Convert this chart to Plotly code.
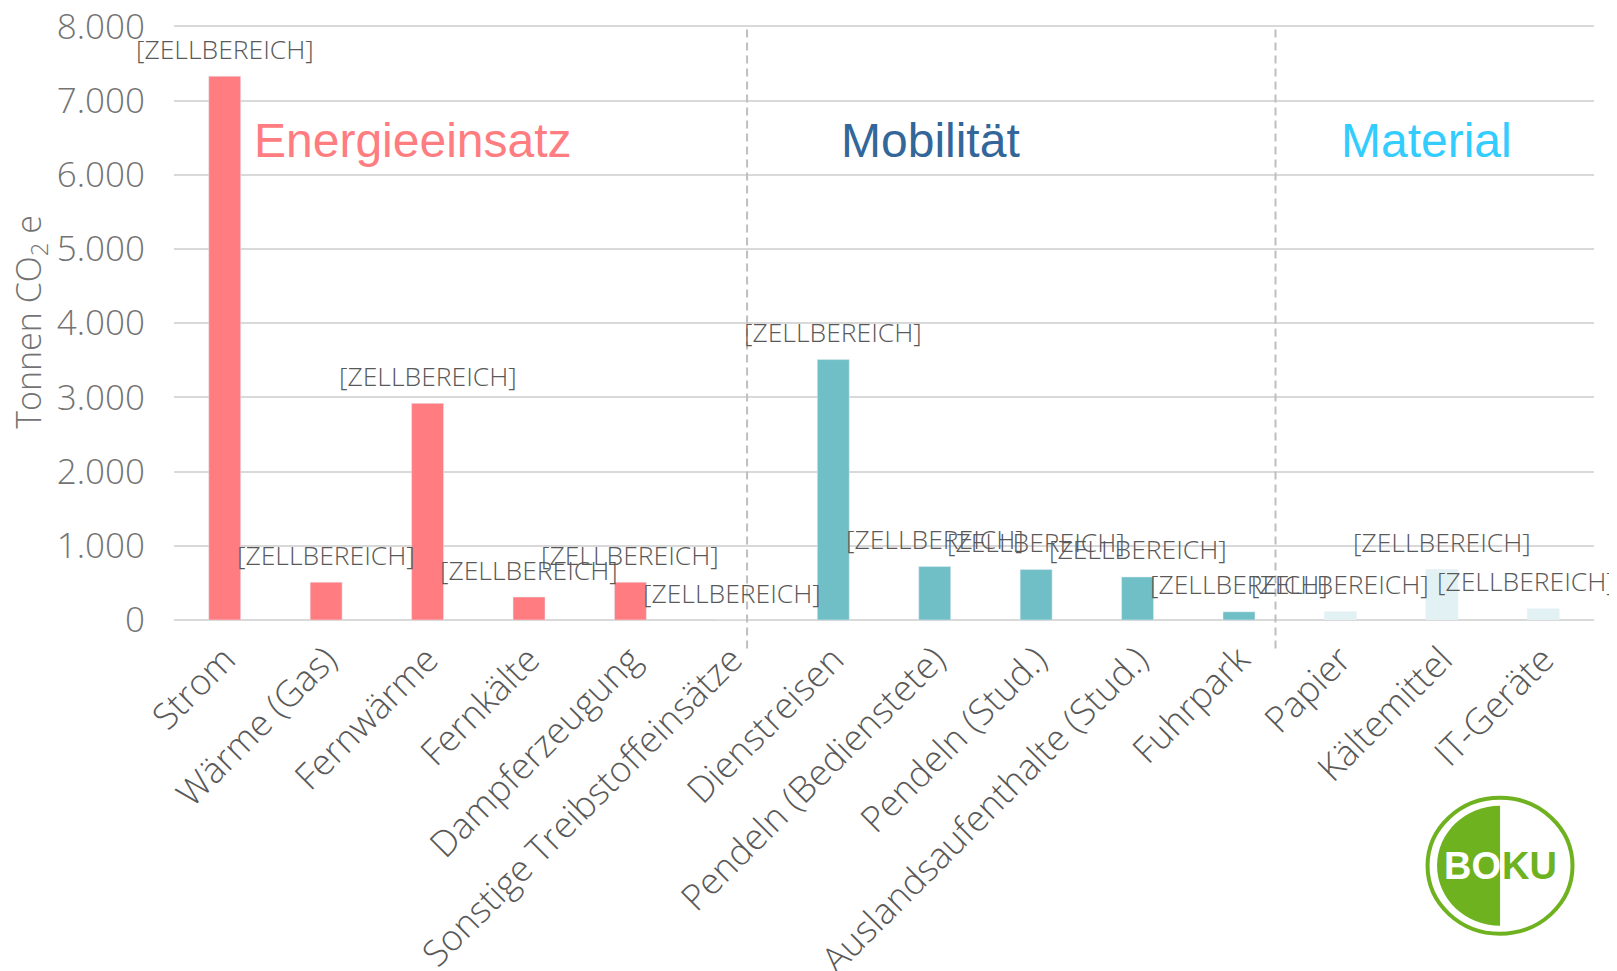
import plotly.graph_objects as go

categories = ["Strom", "Wärme (Gas)", "Fernwärme", "Fernkälte", "Dampferzeugung",
              "Sonstige Treibstoffeinsätze", "Dienstreisen", "Pendeln (Bedienstete)",
              "Pendeln (Stud.)", "Auslandsaufenthalte (Stud.)", "Fuhrpark", "Papier",
              "Kältemittel", "IT-Geräte"]
values = [7330, 510, 2920, 310, 510, 0, 3510, 720, 680, 580, 110, 110, 680, 150]
RED, TEAL, PALE = "#FF7C80", "#70BFC6", "#E2F2F4"
bar_colors = [RED] * 6 + [TEAL] * 5 + [PALE] * 3
label_text = "[ZELLBEREICH]"
label_xshift = [0] * 13 + [-17]

W, H = 1617, 971
BODY = 8  # default page margin of the browser
Y_TOP = 8020  # slightly above the last tick so that its gridline is kept
L, R, T, B = 173.5, 23, 24.5, 351
FONT = "Open Sans"
GREY = "#737373"
DARK = "#595959"
GREEN = "#6FB21F"


def fx(x):
    return (x - L) / (W - L - R)


def fy(y):
    return 1 - (y - T) / (H - T - B)


fig = go.Figure(go.Bar(x=list(range(len(categories))), y=values, marker_color=bar_colors,
                       width=0.315, hoverinfo="x+y"))

annotations = []
for i, v in enumerate(values):
    annotations.append(dict(x=i, y=v, xref="x", yref="y", text=label_text, showarrow=False,
                            xanchor="center", yanchor="middle", yshift=27.5, xshift=label_xshift[i],
                            font=dict(family=FONT, size=26.5, color=DARK, weight=300)))

for text, cx, color in [("Energieeinsatz", 412.5, RED), ("Mobilität", 930, "#336699"), ("Material", 1426, "#33CCFF")]:
    annotations.append(dict(x=fx(cx), y=fy(140), xref="paper", yref="paper", text=text, showarrow=False,
                            xanchor="center", yanchor="middle",
                            font=dict(family="Liberation Sans", size=48, color=color)))

annotations.append(dict(x=fx(30), y=fy(322), xref="paper", yref="paper", text="Tonnen CO<sub>2</sub> e",
                        showarrow=False, textangle=-90, xanchor="center", yanchor="middle",
                        font=dict(family=FONT, size=34, color=GREY, weight=300)))

for text, cx, color in [("BO", 1472, "white"), ("KU", 1529, GREEN)]:
    annotations.append(dict(x=fx(cx), y=fy(866), xref="paper", yref="paper", text=f"<b>{text}</b>",
                            showarrow=False, xanchor="center", yanchor="middle",
                            font=dict(family="Liberation Sans", size=38, color=color)))

cx, cy, rx, ry = 1500, 866, 63, 60
k = 0.5523
half = (f"M {fx(cx)} {fy(cy - ry)} "
        f"C {fx(cx - k * rx)} {fy(cy - ry)} {fx(cx - rx)} {fy(cy - k * ry)} {fx(cx - rx)} {fy(cy)} "
        f"C {fx(cx - rx)} {fy(cy + k * ry)} {fx(cx - k * rx)} {fy(cy + ry)} {fx(cx)} {fy(cy + ry)} Z")

shapes = [
    dict(type="line", xref="x", yref="paper", x0=5.15, x1=5.15, y0=fy(29), y1=fy(653),
         line=dict(color="#BFBFBF", width=2, dash="8px,5px")),
    dict(type="line", xref="x", yref="paper", x0=10.36, x1=10.36, y0=fy(29), y1=fy(653),
         line=dict(color="#BFBFBF", width=2, dash="8px,5px")),
    dict(type="circle", xref="paper", yref="paper", x0=fx(1427.5), x1=fx(1572.5), y0=fy(934), y1=fy(798),
         line=dict(color=GREEN, width=4), fillcolor="white"),
    dict(type="path", xref="paper", yref="paper", path=half, line=dict(width=0), fillcolor=GREEN),
]

fig.update_layout(
    width=W - BODY, height=H - BODY, autosize=False, showlegend=False,
    paper_bgcolor="white", plot_bgcolor="white", separators=",.",
    margin=dict(l=L - BODY, r=R, t=T - BODY, b=B, pad=0),
    annotations=annotations, shapes=shapes,
    xaxis=dict(tickmode="array", tickvals=list(range(len(categories))), ticktext=categories,
               tickangle=-45, range=[-0.5, 13.5], showgrid=False, zeroline=False, showline=False,
               ticks="outside", ticklen=3, tickcolor="rgba(0,0,0,0)", ticklabeloverflow="allow",
               tickfont=dict(family=FONT, size=36, color=DARK, weight=300), automargin=False),
    yaxis=dict(range=[0, Y_TOP], tick0=0, dtick=1000, tickformat=",d", gridcolor="#D9D9D9", gridwidth=2,
               zeroline=True, zerolinecolor="#D9D9D9", zerolinewidth=2, showline=False,
               ticks="outside", ticklen=21, tickcolor="rgba(0,0,0,0)", ticklabeloverflow="allow",
               tickfont=dict(family=FONT, size=35, color=GREY, weight=300), automargin=False),
)

fig.write_html("out.html")
